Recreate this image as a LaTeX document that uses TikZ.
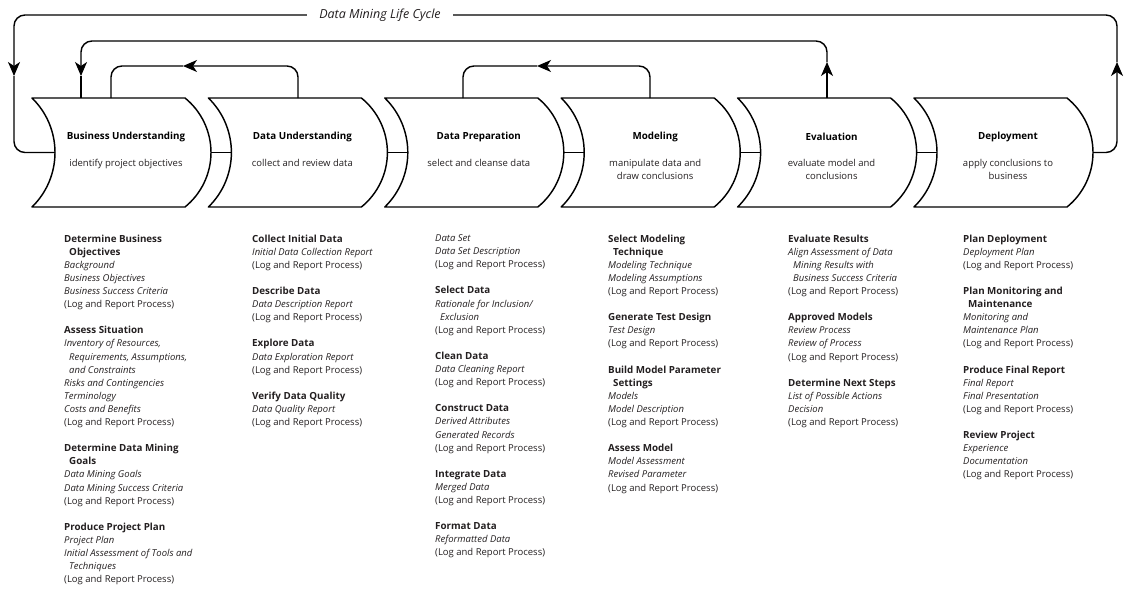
\documentclass[tikz,border=0pt]{standalone}
\usepackage{fontspec}
\setmainfont{Open Sans}
\usetikzlibrary{arrows.meta,calc}
\definecolor{txt}{HTML}{231F20}
\begin{document}
\begin{tikzpicture}[x=1pt,y=-1pt,
  line/.style={line width=1.45pt, draw=black},
  tip/.style={-{Stealth[length=14pt,width=12pt,inset=4pt]}},
  hd/.style={font=\fontsize{9.8}{11}\selectfont\bfseries, inner sep=0pt},
  sub/.style={font=\fontsize{9.5}{12.5}\selectfont, align=center, anchor=north, inner sep=0pt, text=txt},
  col/.style={anchor=north west, inner sep=0pt, align=left, font=\fontsize{9.5}{13.1}\selectfont, text=txt},
  stage/.pic={
    \draw[line, line join=round] (0,0) -- (153,0)
      .. controls (169.4,13.3) and (179,33.4) .. (179,54.5)
      .. controls (179,75.6) and (169.4,95.7) .. (153,109)
      -- (0,109)
      .. controls (14.7,94.7) and (23,75) .. (23,54.5)
      .. controls (23,34) and (14.7,14.3) .. (0,0) -- cycle;
    \coordinate (-in) at (23,54.5);
    \coordinate (-out) at (179,54.5);
  }
]
\newcommand\hb[1]{{\fontsize{9.8}{13.1}\selectfont\bfseries #1}}
\newcommand\ind{\hspace*{5pt}}
\useasboundingbox (0,0) rectangle (1125,589);

% stages
\pic (bu) at (32,98) {stage};
\pic (du) at (208.4,98) {stage};
\pic (dp) at (384.8,98) {stage};
\pic (mo) at (561.2,98) {stage};
\pic (ev) at (737.6,98) {stage};
\pic (de) at (914,98) {stage};

\draw[line] (bu-out) -- (du-in);
\draw[line] (du-out) -- (dp-in);
\draw[line] (dp-out) -- (mo-in);
\draw[line] (mo-out) -- (ev-in);
\draw[line] (ev-out) -- (de-in);

% stage texts
\node[hd] (bu-t) at (126,137) {Business Understanding};
\node[sub] (bu-s) at (126,159.5) {identify project objectives};
\node[hd] (du-t) at (302.4,137) {Data Understanding};
\node[sub] (du-s) at (302.4,159.5) {collect and review data};
\node[hd] (dp-t) at (478.8,137) {Data Preparation};
\node[sub] (dp-s) at (478.8,159.5) {select and cleanse data};
\node[hd] (mo-t) at (655.2,137) {Modeling};
\node[sub] (mo-s) at (655.2,159.5) {manipulate data and\\draw conclusions};
\node[hd] (ev-t) at (831.6,137) {Evaluation};
\node[sub] (ev-s) at (831.6,159.5) {evaluate model and\\conclusions};
\node[hd] (de-t) at (1008,137) {Deployment};
\node[sub] (de-s) at (1008,159.5) {apply conclusions to\\business};

% loop DU -> BU
\coordinate (l1a) at (298,98);
\coordinate (l1m) at (183,66);
\coordinate (l1b) at (111,98);
\draw[line, tip, rounded corners=11] (l1a) |- (l1m);
\draw[line, rounded corners=11] (l1m) -| (l1b);
% loop MO -> DP
\coordinate (l2a) at (650,98);
\coordinate (l2m) at (537,66);
\coordinate (l2b) at (463,98);
\draw[line, tip, rounded corners=11] (l2a) |- (l2m);
\draw[line, rounded corners=11] (l2m) -| (l2b);
% loop EV -> BU
\coordinate (l3a) at (827,98);
\coordinate (l3u) at (827,62);
\coordinate (l3d) at (81,76);
\coordinate (l3b) at (81,98);
\draw[line, tip] (l3a) -- (l3u);
\draw[line, tip, rounded corners=11] (l3u) |- (454,41) -| (l3d);
\draw[line] (l3d) -- (l3b);
% outer loop
\coordinate (l4u) at (1117,62);
\coordinate (l4d) at (14,76);
\draw[line, tip, rounded corners=11] (de-out) -| (l4u);
\draw[line, tip, rounded corners=11] (l4u) |- (380,15) -| (l4d);
\draw[line, rounded corners=11] (l4d) |- (bu-in);
\node[fill=white, inner xsep=12pt, inner ysep=2pt, font=\fontsize{12.5}{14}\selectfont\itshape, text=txt] (title) at (380,15) {Data Mining Life Cycle};

% columns
\node[col] (c1) at (64,234.5) {%
\hb{Determine Business}\\
\ind\hb{Objectives}\\
\textit{Background}\\
\textit{Business Objectives}\\
\textit{Business Success Criteria}\\
(Log and Report Process)\\
\mbox{}\\
\hb{Assess Situation}\\
\textit{Inventory of Resources,}\\
\ind\textit{Requirements, Assumptions,}\\
\ind\textit{and Constraints}\\
\textit{Risks and Contingencies}\\
\textit{Terminology}\\
\textit{Costs and Benefits}\\
(Log and Report Process)\\
\mbox{}\\
\hb{Determine Data Mining}\\
\ind\hb{Goals}\\
\textit{Data Mining Goals}\\
\textit{Data Mining Success Criteria}\\
(Log and Report Process)\\
\mbox{}\\
\hb{Produce Project Plan}\\
\textit{Project Plan}\\
\textit{Initial Assessment of Tools and}\\
\ind\textit{Techniques}\\
(Log and Report Process)};

\node[col] (c2) at (252,234.5) {%
\hb{Collect Initial Data}\\
\textit{Initial Data Collection Report}\\
(Log and Report Process)\\
\mbox{}\\
\hb{Describe Data}\\
\textit{Data Description Report}\\
(Log and Report Process)\\
\mbox{}\\
\hb{Explore Data}\\
\textit{Data Exploration Report}\\
(Log and Report Process)\\
\mbox{}\\
\hb{Verify Data Quality}\\
\textit{Data Quality Report}\\
(Log and Report Process)};

\node[col] (c3) at (435,234.5) {%
\textit{Data Set}\\
\textit{Data Set Description}\\
(Log and Report Process)\\
\mbox{}\\
\hb{Select Data}\\
\textit{Rationale for Inclusion/}\\
\ind\textit{Exclusion}\\
(Log and Report Process)\\
\mbox{}\\
\hb{Clean Data}\\
\textit{Data Cleaning Report}\\
(Log and Report Process)\\
\mbox{}\\
\hb{Construct Data}\\
\textit{Derived Attributes}\\
\textit{Generated Records}\\
(Log and Report Process)\\
\mbox{}\\
\hb{Integrate Data}\\
\textit{Merged Data}\\
(Log and Report Process)\\
\mbox{}\\
\hb{Format Data}\\
\textit{Reformatted Data}\\
(Log and Report Process)};

\node[col] (c4) at (608,234.5) {%
\hb{Select Modeling}\\
\ind\hb{Technique}\\
\textit{Modeling Technique}\\
\textit{Modeling Assumptions}\\
(Log and Report Process)\\
\mbox{}\\
\hb{Generate Test Design}\\
\textit{Test Design}\\
(Log and Report Process)\\
\mbox{}\\
\hb{Build Model Parameter}\\
\ind\hb{Settings}\\
\textit{Models}\\
\textit{Model Description}\\
(Log and Report Process)\\
\mbox{}\\
\hb{Assess Model}\\
\textit{Model Assessment}\\
\textit{Revised Parameter}\\
(Log and Report Process)};

\node[col] (c5) at (788,234.5) {%
\hb{Evaluate Results}\\
\textit{Align Assessment of Data}\\
\ind\textit{Mining Results with}\\
\ind\textit{Business Success Criteria}\\
(Log and Report Process)\\
\mbox{}\\
\hb{Approved Models}\\
\textit{Review Process}\\
\textit{Review of Process}\\
(Log and Report Process)\\
\mbox{}\\
\hb{Determine Next Steps}\\
\textit{List of Possible Actions}\\
\textit{Decision}\\
(Log and Report Process)};

\node[col] (c6) at (963,234.5) {%
\hb{Plan Deployment}\\
\textit{Deployment Plan}\\
(Log and Report Process)\\
\mbox{}\\
\hb{Plan Monitoring and}\\
\ind\hb{Maintenance}\\
\textit{Monitoring and}\\
\textit{Maintenance Plan}\\
(Log and Report Process)\\
\mbox{}\\
\hb{Produce Final Report}\\
\textit{Final Report}\\
\textit{Final Presentation}\\
(Log and Report Process)\\
\mbox{}\\
\hb{Review Project}\\
\textit{Experience}\\
\textit{Documentation}\\
(Log and Report Process)};
\end{tikzpicture}
\end{document}
